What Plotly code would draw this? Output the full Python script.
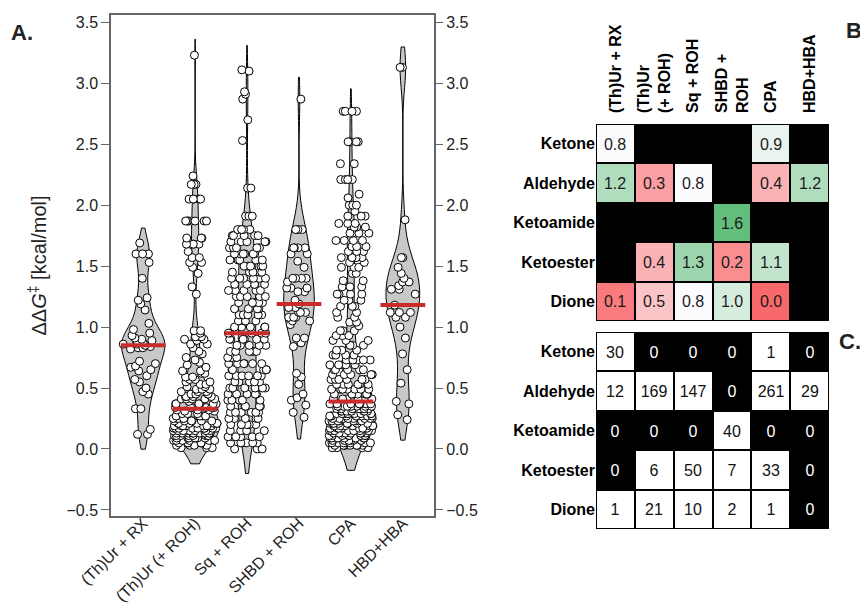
import numpy as np
import plotly.graph_objects as go

# ---------------- data ----------------
catalysts = ["(Th)Ur + RX", "(Th)Ur (+ ROH)", "Sq + ROH", "SHBD + ROH", "CPA", "HBD+HBA"]

# Panel A: ΔΔG‡ values (kcal/mol)
thur_rx = [1.69, 1.60, 1.60, 1.60, 1.53, 1.40, 1.24, 1.22, 1.19, 1.14, 1.03, 0.98, 0.95,
           0.93, 0.91, 0.90, 0.89, 0.88, 0.87, 0.86, 0.86, 0.85, 0.84, 0.83, 0.83, 0.82,
           0.72, 0.70, 0.68, 0.67, 0.65, 0.64, 0.60, 0.57, 0.55, 0.50, 0.47, 0.45, 0.33,
           0.33, 0.16, 0.12, 0.12]

thur_roh_vals = [3.23, 2.24, 2.17, 2.05, 1.87, 1.73, 1.68, 1.62, 1.57, 1.53, 1.49, 1.44, 1.33, 1.27,
                 0.97, 0.95, 0.92, 0.90, 0.89, 0.86, 0.83, 0.80, 0.78, 0.75, 0.73, 0.71,
                 0.69, 0.67, 0.64, 0.62, 0.59, 0.57, 0.55, 0.53, 0.51,
                 0.49, 0.47, 0.45, 0.43, 0.41, 0.39, 0.37, 0.34,
                 0.32, 0.31, 0.29, 0.27, 0.25, 0.23, 0.21, 0.19, 0.17, 0.15, 0.13, 0.11,
                 0.09, 0.07, 0.05, 0.03, 0.01]
thur_roh_counts = [1, 1, 3, 5, 7, 3, 4, 1, 2, 2, 1, 1, 1, 1,
                   2, 1, 3, 2, 1, 2, 1, 1, 1, 1, 1, 1,
                   1, 1, 2, 2, 2, 2, 2, 2, 2,
                   3, 3, 4, 4, 5, 1, 6, 6,
                   3, 2, 3, 4, 5, 6, 7, 8, 9, 9, 9, 8,
                   7, 6, 5, 4, 3]

sq_roh_vals = [3.11, 3.10, 2.93, 2.91, 2.87, 2.70, 2.53, 2.14, 1.91,
               1.80, 1.75, 1.70, 1.65, 1.60, 1.55, 1.50, 1.45, 1.40, 1.35, 1.30, 1.25, 1.20,
               1.15, 1.10, 1.05, 1.00, 0.95,
               0.90, 0.85, 0.80, 0.75, 0.70, 0.65, 0.60, 0.55, 0.50, 0.45, 0.40, 0.35, 0.30,
               0.25, 0.20, 0.15, 0.10, 0.05, 0.00]
sq_roh_counts = [1, 1, 1, 1, 1, 1, 1, 2, 3,
                 5, 5, 5, 5, 6, 5, 5, 5, 6, 5, 5, 5, 5,
                 5, 5, 5, 5, 5,
                 6, 5, 6, 5, 6, 5, 6, 5, 6, 5, 6, 5, 6,
                 5, 6, 5, 6, 6, 3]

shbd_roh = [2.87, 1.80, 1.80, 1.80, 1.80, 1.65, 1.65, 1.65, 1.65, 1.60, 1.60, 1.54, 1.49,
            1.40, 1.40, 1.40, 1.40, 1.37, 1.32, 1.32, 1.32, 1.29, 1.29, 1.22, 1.19,
            1.16, 1.16, 1.12, 1.12, 1.12, 1.08, 1.08, 1.08, 1.05, 1.05, 1.02, 0.91, 0.91,
            0.87, 0.84, 0.62, 0.59, 0.53, 0.45, 0.42, 0.40, 0.36, 0.30, 0.26]

cpa_vals = [2.77, 2.52, 2.34, 2.21, 2.09, 2.06, 2.00, 1.95, 1.91, 1.85, 1.82, 1.77, 1.71, 1.66,
            1.62, 1.57, 1.53, 1.49, 1.44, 1.38, 1.33, 1.27,
            1.22, 1.17, 1.12, 1.08, 1.04, 1.01,
            0.97, 0.93, 0.89, 0.85, 0.81, 0.77, 0.73, 0.69, 0.65, 0.61, 0.57, 0.53, 0.49, 0.45, 0.41,
            0.37, 0.35, 0.33, 0.31, 0.29, 0.27, 0.25, 0.23, 0.21, 0.19, 0.17, 0.15, 0.13, 0.11,
            0.09, 0.07, 0.05, 0.03, 0.01]
cpa_counts = [4, 4, 2, 5, 1, 1, 3, 1, 3, 3, 3, 4, 4, 3,
              3, 4, 2, 3, 2, 2, 3, 4,
              3, 3, 2, 2, 2, 1,
              3, 3, 3, 3, 3, 4, 5, 5, 5, 5, 6, 6, 7, 7, 6,
              8, 8, 8, 8, 8, 8, 8, 8, 8, 8, 8, 8, 8, 8,
              8, 8, 8, 8, 4]

hbd_hba = [3.13, 3.13, 1.88, 1.57, 1.57, 1.49, 1.44, 1.40, 1.37, 1.37, 1.34, 1.31, 1.31, 1.27,
           1.18, 1.12, 1.12, 1.12, 1.08, 1.08, 1.00, 0.91, 0.78, 0.65, 0.54, 0.39, 0.37,
           0.28, 0.24]

# Panels B / C
substrates = ["Ketone", "Aldehyde", "Ketoamide", "Ketoester", "Dione"]
heat_cols = ["(Th)Ur + RX", "(Th)Ur<br>(+ ROH)", "Sq + ROH", "SHBD +<br>ROH", "CPA", "HBD+HBA"]
median_ddg = [
    [0.8, None, None, None, 0.9, None],
    [1.2, 0.3, 0.8, None, 0.4, 1.2],
    [None, None, None, 1.6, None, None],
    [None, 0.4, 1.3, 0.2, 1.1, None],
    [0.1, 0.5, 0.8, 1.0, 0.0, None],
]
counts = [
    [30, 0, 0, 0, 1, 0],
    [12, 169, 147, 0, 261, 29],
    [0, 0, 0, 40, 0, 0],
    [0, 6, 50, 7, 33, 0],
    [1, 21, 10, 2, 1, 0],
]

groups = [
    np.array(thur_rx),
    np.repeat(thur_roh_vals, thur_roh_counts),
    np.repeat(sq_roh_vals, sq_roh_counts),
    np.array(shbd_roh),
    np.repeat(cpa_vals, cpa_counts),
    np.array(hbd_hba),
]

# style: horizontal spread of the swarm points per violin (category units)
point_spread = [0.92, 0.85, 0.75, 0.62, 0.85, 0.55]

# ---------------- kde helpers (equal-area violins) ----------------
def bw_nrd0(v):
    sd = np.std(v, ddof=1)
    iqr = np.subtract(*np.percentile(v, [75, 25]))
    a = min(sd, iqr / 1.34) if iqr > 0 else sd
    return 0.9 * a * len(v) ** (-0.2)

def kde_max(v, bw, lo, hi):
    g = np.linspace(lo, hi, 600)
    d = np.exp(-0.5 * ((g[:, None] - v[None, :]) / bw) ** 2).sum(1) / (len(v) * bw * np.sqrt(2 * np.pi))
    return d.max()

stats = []
for v in groups:
    bw = bw_nrd0(v)
    lo, hi = v.min() - bw, v.max() + bw
    stats.append((bw, lo, hi, kde_max(v, bw, lo, hi)))
dmax_all = max(s[3] for s in stats)
MAXW = 0.92

fig = go.Figure()
# violin bodies
for cat, v, (bw, lo, hi, dm) in zip(catalysts, groups, stats):
    fig.add_trace(go.Violin(
        x=[cat] * len(v), y=v, name=cat,
        width=MAXW * dm / dmax_all, scalemode="width",
        bandwidth=bw, spanmode="manual", span=[lo, hi],
        points=False, fillcolor="#c8c8c8", line=dict(color="black", width=1),
        hoverinfo="skip", showlegend=False, xaxis="x", yaxis="y",
    ))
# swarm points (density-scaled jitter, spread a little wider than the bodies)
for cat, v, (bw, lo, hi, dm), sp in zip(catalysts, groups, stats, point_spread):
    fig.add_trace(go.Violin(
        x=[cat] * len(v), y=v, name=cat,
        width=sp, scalemode="width",
        bandwidth=bw, spanmode="manual", span=[lo, hi],
        points="all", pointpos=0, jitter=1,
        fillcolor="rgba(0,0,0,0)", line=dict(color="rgba(0,0,0,0)", width=0),
        marker=dict(color="white", size=8, line=dict(color="black", width=1)),
        hoverinfo="skip", showlegend=False, xaxis="x", yaxis="y",
    ))

medians = [float(np.median(v)) for v in groups]
fig.add_trace(go.Scatter(
    x=catalysts, y=medians, mode="markers",
    marker=dict(symbol="line-ew", size=32, line=dict(color="#cc2b2b", width=4)),
    hoverinfo="skip", showlegend=False, xaxis="x", yaxis="y4",
))

# Panel B heatmap
b_text = [["" if z is None else f"{z:.1f}" for z in row] for row in median_ddg]
fig.add_trace(go.Heatmap(
    z=median_ddg, x=heat_cols, y=substrates, text=b_text, texttemplate="%{text}",
    textfont=dict(size=16, color="#1a1a1a"),
    colorscale=[[0, "#F8696B"], [0.5, "#FCFCFF"], [1, "#63BE7B"]], zmin=0, zmax=1.6,
    showscale=False, xgap=2, ygap=2, hoverinfo="skip", xaxis="x2", yaxis="y2",
))

# Panel C heatmap: observed combinations (white) and empty ones (black)
nonzero_z = [[1 if c > 0 else None for c in row] for row in counts]
nonzero_t = [[str(c) if c > 0 else "" for c in row] for row in counts]
zero_z = [[0 if c == 0 else None for c in row] for row in counts]
zero_t = [[str(c) if c == 0 else "" for c in row] for row in counts]
fig.add_trace(go.Heatmap(
    z=nonzero_z, x=heat_cols, y=substrates, text=nonzero_t, texttemplate="%{text}",
    textfont=dict(size=16, color="#111111"),
    colorscale=[[0, "white"], [1, "white"]], zmin=0, zmax=1,
    showscale=False, xgap=2, ygap=2, hoverinfo="skip", xaxis="x3", yaxis="y3",
))
fig.add_trace(go.Heatmap(
    z=zero_z, x=heat_cols, y=substrates, text=zero_t, texttemplate="%{text}",
    textfont=dict(size=16, color="white"),
    colorscale=[[0, "black"], [1, "black"]], zmin=0, zmax=1,
    showscale=False, xgap=2, ygap=2, hoverinfo="skip", xaxis="x3", yaxis="y3",
))

W, H = 868, 606
OFF = 8  # page body margin offsets the figure by 8 px


def fx(px):
    return (px - OFF) / W


def fy(py):
    return 1 - (py - OFF) / H


FONT = "Liberation Sans, Arial, sans-serif"
frame = "#666666"
bold16 = dict(size=16, weight="bold", color="black")

fig.update_layout(
    width=W, height=H, margin=dict(l=0, r=0, t=0, b=0, autoexpand=False),
    paper_bgcolor="white", plot_bgcolor="white",
    font=dict(family=FONT, color="#222222", size=16),
    violinmode="overlay", showlegend=False,
    xaxis=dict(domain=[fx(111), fx(434)], anchor="y", type="category", range=[-0.62, 5.6],
               tickangle=-45, ticks="", ticklen=0, ticklabelstandoff=-10,
               showline=True, linecolor=frame, linewidth=1.5, mirror=True,
               showgrid=False, zeroline=False, tickfont=dict(size=16), automargin=False),
    yaxis=dict(domain=[fy(516), fy(15)], anchor="x", range=[-0.55, 3.56],
               dtick=0.5, tick0=0, tickformat=".1f", ticks="outside", ticklen=8, tickcolor=frame,
               showline=True, linecolor=frame, linewidth=1.5, mirror=True,
               showgrid=False, zeroline=False, tickfont=dict(size=16), automargin=False,
               title=dict(text="ΔΔ<i>G</i><sup>‡</sup> [kcal/mol]", font=dict(size=20), standoff=14)),
    yaxis4=dict(overlaying="y", side="right", anchor="x", range=[-0.55, 3.56],
                dtick=0.5, tick0=0, tickformat=".1f", ticks="outside", ticklen=8, tickcolor=frame,
                showline=False, showgrid=False, zeroline=False, tickfont=dict(size=16),
                automargin=False),
    xaxis2=dict(domain=[fx(596), fx(829)], anchor="y2", side="top", type="category",
                tickangle=-90, ticks="", ticklabelstandoff=10, showgrid=False, zeroline=False,
                showline=False, tickfont=bold16, automargin=False),
    yaxis2=dict(domain=[fy(321), fy(124)], anchor="x2", type="category",
                autorange="reversed", ticks="", showgrid=False, zeroline=False, showline=False,
                tickfont=bold16, ticklabelstandoff=0, automargin=False),
    xaxis3=dict(domain=[fx(596), fx(829)], anchor="y3", type="category", showticklabels=False,
                ticks="", showgrid=False, zeroline=False, showline=False, automargin=False),
    yaxis3=dict(domain=[fy(529), fy(332)], anchor="x3", type="category",
                autorange="reversed", ticks="", showgrid=False, zeroline=False, showline=False,
                tickfont=bold16, ticklabelstandoff=0, automargin=False),
    shapes=[
        dict(type="rect", xref="x2 domain", yref="y2 domain", x0=0, x1=1, y0=0, y1=1,
             fillcolor="black", line=dict(width=0), layer="below"),
        dict(type="rect", xref="x3 domain", yref="y3 domain", x0=0, x1=1, y0=0, y1=1,
             fillcolor="black", line=dict(width=0), layer="below"),
    ],
    annotations=[
        dict(text="<b>A.</b>", x=fx(9), y=fy(32), xref="paper", yref="paper",
             xanchor="left", yanchor="middle", showarrow=False, font=dict(size=22, color="#222")),
        dict(text="<b>B.</b>", x=fx(844), y=fy(31), xref="paper", yref="paper",
             xanchor="left", yanchor="middle", showarrow=False, font=dict(size=22, color="#222")),
        dict(text="<b>C.</b>", x=fx(837), y=fy(341), xref="paper", yref="paper",
             xanchor="left", yanchor="middle", showarrow=False, font=dict(size=22, color="#222")),
    ],
)

fig.write_html("out.html")
